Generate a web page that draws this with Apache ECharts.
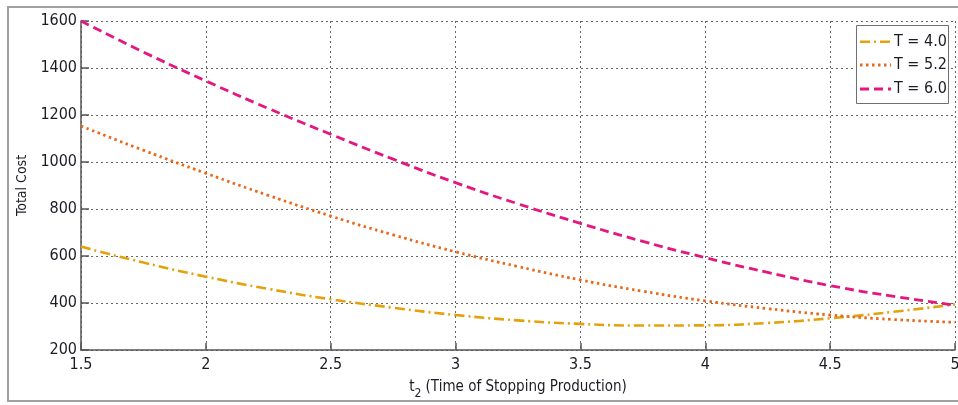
<!DOCTYPE html>
<html>
<head>
<meta charset="utf-8">
<script src="https://cdn.jsdelivr.net/npm/echarts@6/dist/echarts.min.js"></script>
<style>
  html, body { margin: 0; padding: 0; background: #fff; }
  #frame { position: absolute; left: 7px; top: 6px; width: 980px; height: 396px;
           border: 2px solid #a0a0a0; box-sizing: border-box; }
  #chart { position: absolute; left: 0; top: 0; width: 958px; height: 405px; }
</style>
</head>
<body>
<div id="frame"></div>
<div id="chart"></div>
<script>
// Stopping time t2 and total cost for three cycle lengths T
const t2 = [1.5, 1.75, 2, 2.25, 2.5, 2.75, 3, 3.25, 3.5, 3.75, 4, 4.25, 4.5, 4.75, 5];
const costT40 = [640, 572, 512, 460, 416, 380, 349, 326, 311, 304, 305, 315, 335, 362, 394];
const costT52 = [1153, 1050, 952, 858, 770, 690, 618, 555, 498, 450, 409, 376, 349, 330, 318];
const costT60 = [1600, 1468, 1345, 1228, 1118, 1012, 912, 822, 739, 662, 593, 530, 474, 429, 391];
const seriesNames = ['T = 4.0', 'T = 5.2', 'T = 6.0'];
const yTicks = { min: 200, max: 1600, step: 200 };
const xTicks = { min: 1.5, max: 5, step: 0.5 };

const FONT = "'Liberation Sans Narrow', 'DejaVu Sans Condensed', sans-serif";
const TEXT = '#1c1c24';

// Per-series look: colour, stroke width and dash pattern
const styles = [
  { color: '#E3A20C', width: 2.6, dash: [10, 4, 2, 4] },
  { color: '#E8691A', width: 2.8, dash: [2.5, 3.5] },
  { color: '#E3177F', width: 2.8, dash: [9, 5] }
];
const seriesValues = [costT40, costT52, costT60];

const pairs = (ys) => t2.map((x, i) => [x, ys[i]]);

const chart = echarts.init(document.getElementById('chart'), null, { renderer: 'canvas' });

const gridLine = { show: true, lineStyle: { color: '#666', width: 1, type: [2, 3] } };

// Boxed legend in the upper-right corner with dashed line samples
const legendBox = { x: 856, y: 25, w: 92, h: 78, rowY: [41.7, 65, 89] };
const legendGraphics = [
  {
    type: 'rect', z: 100,
    shape: { x: legendBox.x + 0.5, y: legendBox.y + 0.5, width: legendBox.w, height: legendBox.h },
    style: { fill: '#fff', stroke: '#707070', lineWidth: 1 }
  }
];
seriesNames.forEach((name, i) => {
  const cy = legendBox.rowY[i];
  legendGraphics.push({
    type: 'line', z: 101,
    shape: { x1: legendBox.x + 4, y1: cy, x2: legendBox.x + 35, y2: cy },
    style: { stroke: styles[i].color, lineWidth: styles[i].width, lineDash: styles[i].dash }
  });
  legendGraphics.push({
    type: 'text', z: 101,
    x: legendBox.x + 38, y: cy,
    style: { text: name, fontFamily: FONT, fontSize: 16, fill: TEXT, verticalAlign: 'middle', align: 'left' }
  });
});

chart.setOption({
  animation: false,
  backgroundColor: 'transparent',
  grid: { left: 81, right: 3, top: 21, bottom: 55, containLabel: false, outerBoundsMode: 'none' },
  xAxis: {
    type: 'value',
    min: xTicks.min, max: xTicks.max, interval: xTicks.step,
    axisLine: { show: true, onZero: false, lineStyle: { color: '#555', width: 1.5 } },
    axisTick: { show: true, inside: true, length: 7, lineStyle: { color: '#555', width: 1.5 } },
    axisLabel: { fontFamily: FONT, fontSize: 16, color: TEXT, margin: 7, formatter: (v) => String(v) },
    splitLine: gridLine,
    name: '{t|t}{s|2}{t| (Time of Stopping Production)}',
    nameLocation: 'middle',
    nameGap: 25,
    nameTextStyle: {
      rich: {
        t: { fontFamily: FONT, fontSize: 15, color: TEXT },
        s: { fontFamily: FONT, fontSize: 12, color: TEXT, padding: [13, 0, 0, 0] }
      }
    }
  },
  yAxis: {
    type: 'value',
    min: yTicks.min, max: yTicks.max, interval: yTicks.step,
    axisLine: { show: true, onZero: false, lineStyle: { color: '#555', width: 1.5 } },
    axisTick: { show: true, inside: true, length: 8, lineStyle: { color: '#555', width: 1.5 } },
    axisLabel: { fontFamily: FONT, fontSize: 16, color: TEXT, margin: 4, formatter: (v) => String(v) },
    splitLine: gridLine,
    name: 'Total Cost',
    nameLocation: 'middle',
    nameGap: 51,
    nameTextStyle: { fontFamily: FONT, fontSize: 14, color: TEXT }
  },
  series: seriesNames.map((name, i) => ({
    name, type: 'line', data: pairs(seriesValues[i]), smooth: true,
    symbol: 'none', color: styles[i].color,
    lineStyle: { width: styles[i].width, type: styles[i].dash, color: styles[i].color }
  })),
  graphic: legendGraphics
});
</script>
</body>
</html>
